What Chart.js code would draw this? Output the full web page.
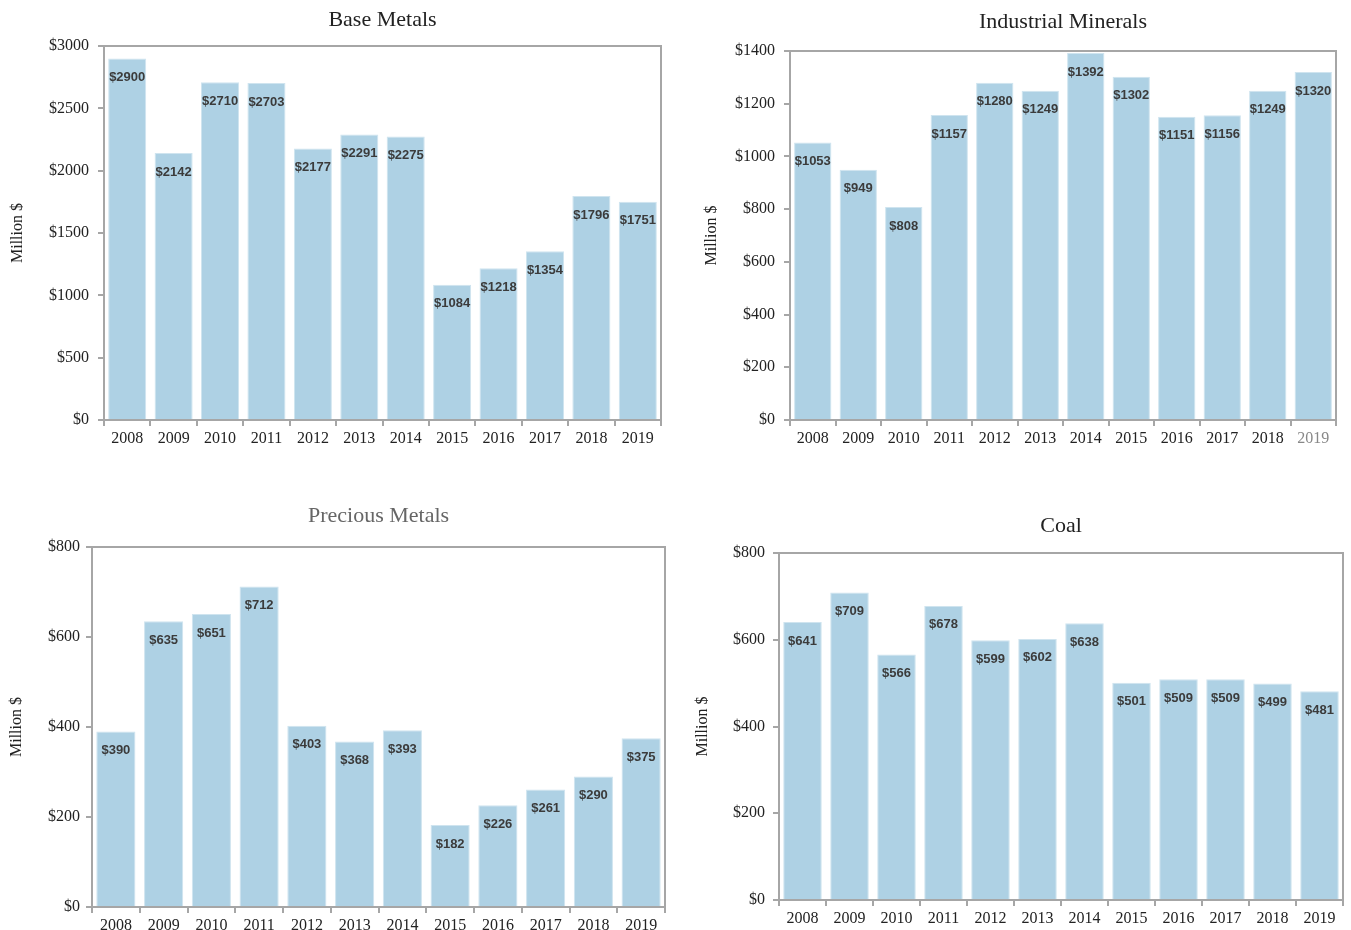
<!DOCTYPE html>
<html>
<head>
<meta charset="utf-8">
<script src="https://cdn.jsdelivr.net/npm/chart.js@4"></script>
<style>
  body { margin: 0; background: #fff; }
  .box { position: absolute; }
</style>
</head>
<body>
<div class="box" style="left:0;top:0;width:680px;height:460px"><canvas id="baseChart"></canvas></div>
<div class="box" style="left:680px;top:0;width:671px;height:460px"><canvas id="industrialChart"></canvas></div>
<div class="box" style="left:0;top:470px;width:680px;height:460px"><canvas id="preciousChart"></canvas></div>
<div class="box" style="left:680px;top:470px;width:671px;height:460px"><canvas id="coalChart"></canvas></div>
<script>
const years = ['2008', '2009', '2010', '2011', '2012', '2013', '2014', '2015', '2016', '2017', '2018', '2019'];
const baseMetals = [2900, 2142, 2710, 2703, 2177, 2291, 2275, 1084, 1218, 1354, 1796, 1751];
const industrialMinerals = [1053, 949, 808, 1157, 1280, 1249, 1392, 1302, 1151, 1156, 1249, 1320];
const preciousMetals = [390, 635, 651, 712, 403, 368, 393, 182, 226, 261, 290, 375];
const coal = [641, 709, 566, 678, 599, 602, 638, 501, 509, 509, 499, 481];

const axisGray = '#a6a6a6';
const barBlue = '#aed1e4';

// box round the plot area + value labels inside the bars
const frameAndLabels = {
  id: 'frameAndLabels',
  afterDatasetsDraw(chart) {
    const ctx = chart.ctx;
    const meta = chart.getDatasetMeta(0);
    const vals = chart.data.datasets[0].data;
    ctx.save();
    ctx.font = 'bold 13px "Liberation Sans", Arial, sans-serif';
    ctx.fillStyle = '#3b3b3b';
    ctx.textAlign = 'center';
    ctx.textBaseline = 'middle';
    meta.data.forEach((bar, i) => {
      ctx.fillText('$' + vals[i], bar.x, bar.y + 19);
    });
    const a = chart.chartArea;
    ctx.strokeStyle = axisGray;
    ctx.lineWidth = 2;
    ctx.strokeRect(a.left, a.top, a.right - a.left, a.bottom - a.top);
    ctx.restore();
  }
};

function makeChart(id, title, values, max, step, lay) {
  new Chart(document.getElementById(id), {
    type: 'bar',
    data: {
      labels: years,
      datasets: [{
        data: values,
        backgroundColor: barBlue,
        borderColor: '#cfe4ef',
        borderWidth: 1,
        barPercentage: 0.82,
        categoryPercentage: 1
      }]
    },
    options: {
      responsive: true,
      maintainAspectRatio: false,
      animation: false,
      layout: { padding: { left: 0, right: lay.padRight, top: 0, bottom: 0 } },
      plugins: {
        legend: { display: false },
        tooltip: { enabled: false },
        title: {
          display: true,
          fullSize: false,
          text: title,
          color: lay.titleColor || '#222',
          font: { family: '"Liberation Serif", "Times New Roman", serif', size: 22, weight: 'normal' },
          padding: { top: lay.titleTop, bottom: lay.titleBottom }
        }
      },
      scales: {
        x: {
          grid: { drawOnChartArea: false, drawTicks: true, tickLength: 6, color: axisGray, lineWidth: 2, offset: true },
          border: { display: false },
          ticks: {
            color: ctx => (lay.lastTickGray && ctx.index === 11) ? '#888' : '#222',
            padding: 3,
            maxRotation: 0,
            font: { family: '"Liberation Serif", "Times New Roman", serif', size: 16 }
          },
          afterFit: s => { s.height = lay.xHeight; }
        },
        y: {
          min: 0,
          max: max,
          grid: { drawOnChartArea: false, drawTicks: true, tickLength: 6, color: axisGray, lineWidth: 2 },
          border: { display: false },
          ticks: {
            stepSize: step,
            color: '#222',
            padding: lay.tickPad,
            font: { family: '"Liberation Serif", "Times New Roman", serif', size: 16 },
            callback: v => '$' + v
          },
          title: {
            display: true,
            text: 'Million $',
            color: '#222',
            font: { family: '"Liberation Serif", "Times New Roman", serif', size: 16 },
            padding: { top: lay.yTitlePad, bottom: 0 }
          },
          afterFit: s => { s.width = lay.yWidth; }
        }
      }
    },
    plugins: [frameAndLabels]
  });
}

makeChart('baseChart', 'Base Metals', baseMetals, 3000, 500,
  { padRight: 19, titleTop: 7, titleBottom: 12.6, xHeight: 40, yWidth: 104, tickPad: 9, yTitlePad: 8.4 });
makeChart('industrialChart', 'Industrial Minerals', industrialMinerals, 1400, 200,
  { padRight: 15, titleTop: 9, titleBottom: 15.6, xHeight: 40, yWidth: 110, tickPad: 9, yTitlePad: 22.4, lastTickGray: true });
makeChart('preciousChart', 'Precious Metals', preciousMetals, 800, 200,
  { padRight: 15, titleTop: 33, titleBottom: 17.6, xHeight: 23, yWidth: 92, tickPad: 6, yTitlePad: 7.4, titleColor: '#666' });
makeChart('coalChart', 'Coal', coal, 800, 200,
  { padRight: 8, titleTop: 43, titleBottom: 13.6, xHeight: 30, yWidth: 99, tickPad: 8, yTitlePad: 13.4 });
</script>
</body>
</html>
